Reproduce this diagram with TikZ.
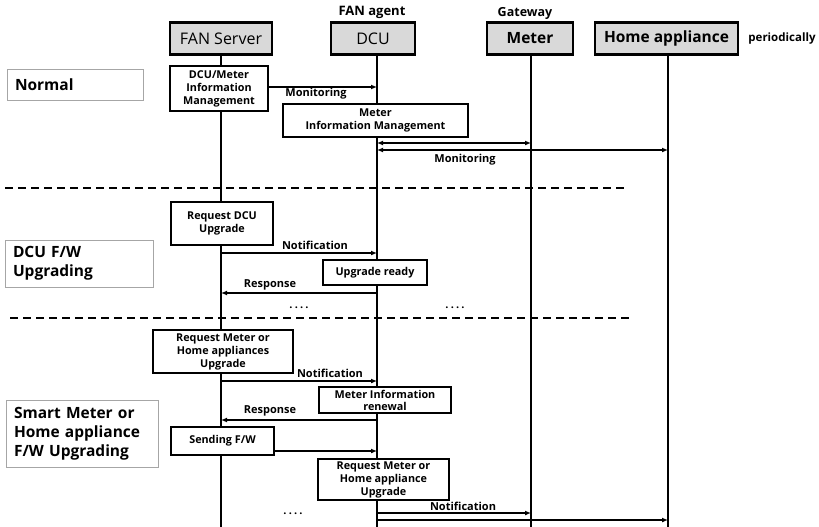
\documentclass[tikz,border=0pt]{standalone}
\usepackage{fontspec}
\setmainfont{Open Sans}
\usetikzlibrary{arrows.meta}
\newcommand{\gapdots}{.\hspace{2.2pt}.\hspace{2.2pt}.\hspace{2.2pt}.}
\begin{document}
\begin{tikzpicture}[x=1pt,y=-1pt,
  head/.style={draw=black,line width=2.5pt,fill=gray!30,minimum height=32pt,inner sep=0pt,font=\fontsize{16}{18}\selectfont},
  act/.style={draw=black,line width=2.4pt,fill=white,inner sep=0pt,align=center,font=\fontsize{10.8}{13}\selectfont\bfseries},
  phase/.style={draw=gray!70,line width=1pt,fill=white,inner sep=0pt,align=left,text width=#1,font=\fontsize{15.5}{19}\selectfont\bfseries},
  lbl/.style={inner sep=0pt,font=\fontsize{11}{13}\selectfont\bfseries},
  life/.style={line width=2pt},
  msg/.style={line width=1.8pt,-{Latex[length=6pt,width=5pt]}},
  bimsg/.style={line width=1.8pt,{Latex[length=6pt,width=5pt]}-{Latex[length=6pt,width=5pt]}},
  sep/.style={line width=1.5pt,dash pattern=on 8pt off 5pt}]
\useasboundingbox (0,0) rectangle (819,527);

% participants
\node[head,minimum width=102pt] (fan) at (221,38.5) {FAN Server};
\node[head,minimum width=84pt] (dcu) at (373,38.5) {DCU};
\node[head,minimum width=86pt,font=\fontsize{15.5}{18}\selectfont\bfseries] (met) at (530,38.5) {Meter};
\node[head,minimum width=143pt,font=\fontsize{15.5}{18}\selectfont\bfseries] (home) at (666.5,38.5) {Home appliance};
\node[lbl,font=\fontsize{13}{15}\selectfont\bfseries] (agent) at (372,12) {FAN agent};
\node[lbl,font=\fontsize{12.5}{14}\selectfont\bfseries] (gw) at (525,13) {Gateway};
\node[lbl,font=\fontsize{11.5}{13}\selectfont\bfseries] (per) at (782,39) {periodically};

% lifelines
\coordinate (fanL) at (221,527);
\coordinate (dcuL) at (377,527);
\coordinate (metL) at (531,527);
\coordinate (homeL) at (668,527);
\draw[life] (221,55) -- (fanL);
\draw[life] (377,55) -- (dcuL);
\draw[life] (531,55) -- (metL);
\draw[life] (668,55) -- (homeL);

% phase separators
\coordinate (s1a) at (5,188); \coordinate (s1b) at (625,188);
\coordinate (s2a) at (10,318); \coordinate (s2b) at (630,318);
\draw[sep] (s1a) -- (s1b);
\draw[sep] (s2a) -- (s2b);

% ---- Normal
\node[phase=120pt,minimum height=30pt,inner xsep=8pt] (pn) at (75,85) {Normal};
\node[act,minimum width=98pt,minimum height=45pt] (dmim) at (219,88.5) {DCU/Meter\\Information\\Management};
\node[act,minimum width=185pt,minimum height=33pt] (mim) at (375.5,120.5) {Meter\\Information Management};
\coordinate (m1) at (377,87);
\draw[msg] (dmim.east |- m1) -- (m1);
\node[lbl] (t1) at (316,94) {Monitoring};
\coordinate (b1a) at (377,143); \coordinate (b1b) at (531,143);
\coordinate (b2a) at (377,150); \coordinate (b2b) at (668,150);
\draw[bimsg] (b1a) -- (b1b);
\draw[bimsg] (b2a) -- (b2b);
\node[lbl] (t2) at (465,160) {Monitoring};

% ---- DCU F/W Upgrading
\node[phase=132pt,minimum height=47pt,inner xsep=8pt] (pd) at (79,263.5) {DCU F/W\\Upgrading};
\node[act,minimum width=102pt,minimum height=43pt] (rdu) at (222,223.5) {Request DCU\\Upgrade};
\coordinate (n1a) at (221,253); \coordinate (n1b) at (377,253);
\draw[msg] (n1a) -- (n1b);
\node[lbl] (t3) at (315,245) {Notification};
\node[act,minimum width=104pt,minimum height=25pt] (ur) at (375,272.5) {Upgrade ready};
\coordinate (r1a) at (377,293); \coordinate (r1b) at (221,293);
\draw[msg] (r1a) -- (r1b);
\node[lbl] (t4) at (270,285) {Response};
\node[lbl] (d1) at (299,307.5) {\gapdots};
\node[lbl] (d2) at (455,307.5) {\gapdots};

% ---- Smart Meter or Home appliance F/W Upgrading
\node[phase=136pt,minimum height=67pt,inner xsep=8pt] (ps) at (82,433.5) {Smart Meter or\\Home appliance\\F/W Upgrading};
\node[act,minimum width=140pt,minimum height=43pt] (rmh) at (223,351.5) {Request Meter or\\Home appliances\\Upgrade};
\coordinate (n2a) at (221,381); \coordinate (n2b) at (377,381);
\draw[msg] (n2a) -- (n2b);
\node[lbl] (t5) at (330,373) {Notification};
\node[act,minimum width=132pt,minimum height=26pt,font=\fontsize{10.8}{12}\selectfont\bfseries] (mir) at (385,400) {Meter Information\\renewal};
\coordinate (r2a) at (377,420); \coordinate (r2b) at (221,420);
\draw[msg] (r2a) -- (r2b);
\node[lbl] (t6) at (270,411) {Response};
\node[act,minimum width=103pt,minimum height=28pt] (sfw) at (222.5,441) {Sending F/W};
\coordinate (f1) at (377,451);
\draw[msg] (sfw.east |- f1) -- (f1);
\node[act,minimum width=131pt,minimum height=41pt] (rma) at (383.5,479.5) {Request Meter or\\Home appliance\\Upgrade};
\node[lbl] (d3) at (293,513.5) {\gapdots};
\coordinate (n3a) at (377,513); \coordinate (n3b) at (531,513);
\draw[msg] (n3a) -- (n3b);
\node[lbl] (t7) at (463,506) {Notification};
\coordinate (n4a) at (377,520); \coordinate (n4b) at (668,520);
\draw[msg] (n4a) -- (n4b);
\end{tikzpicture}
\end{document}
